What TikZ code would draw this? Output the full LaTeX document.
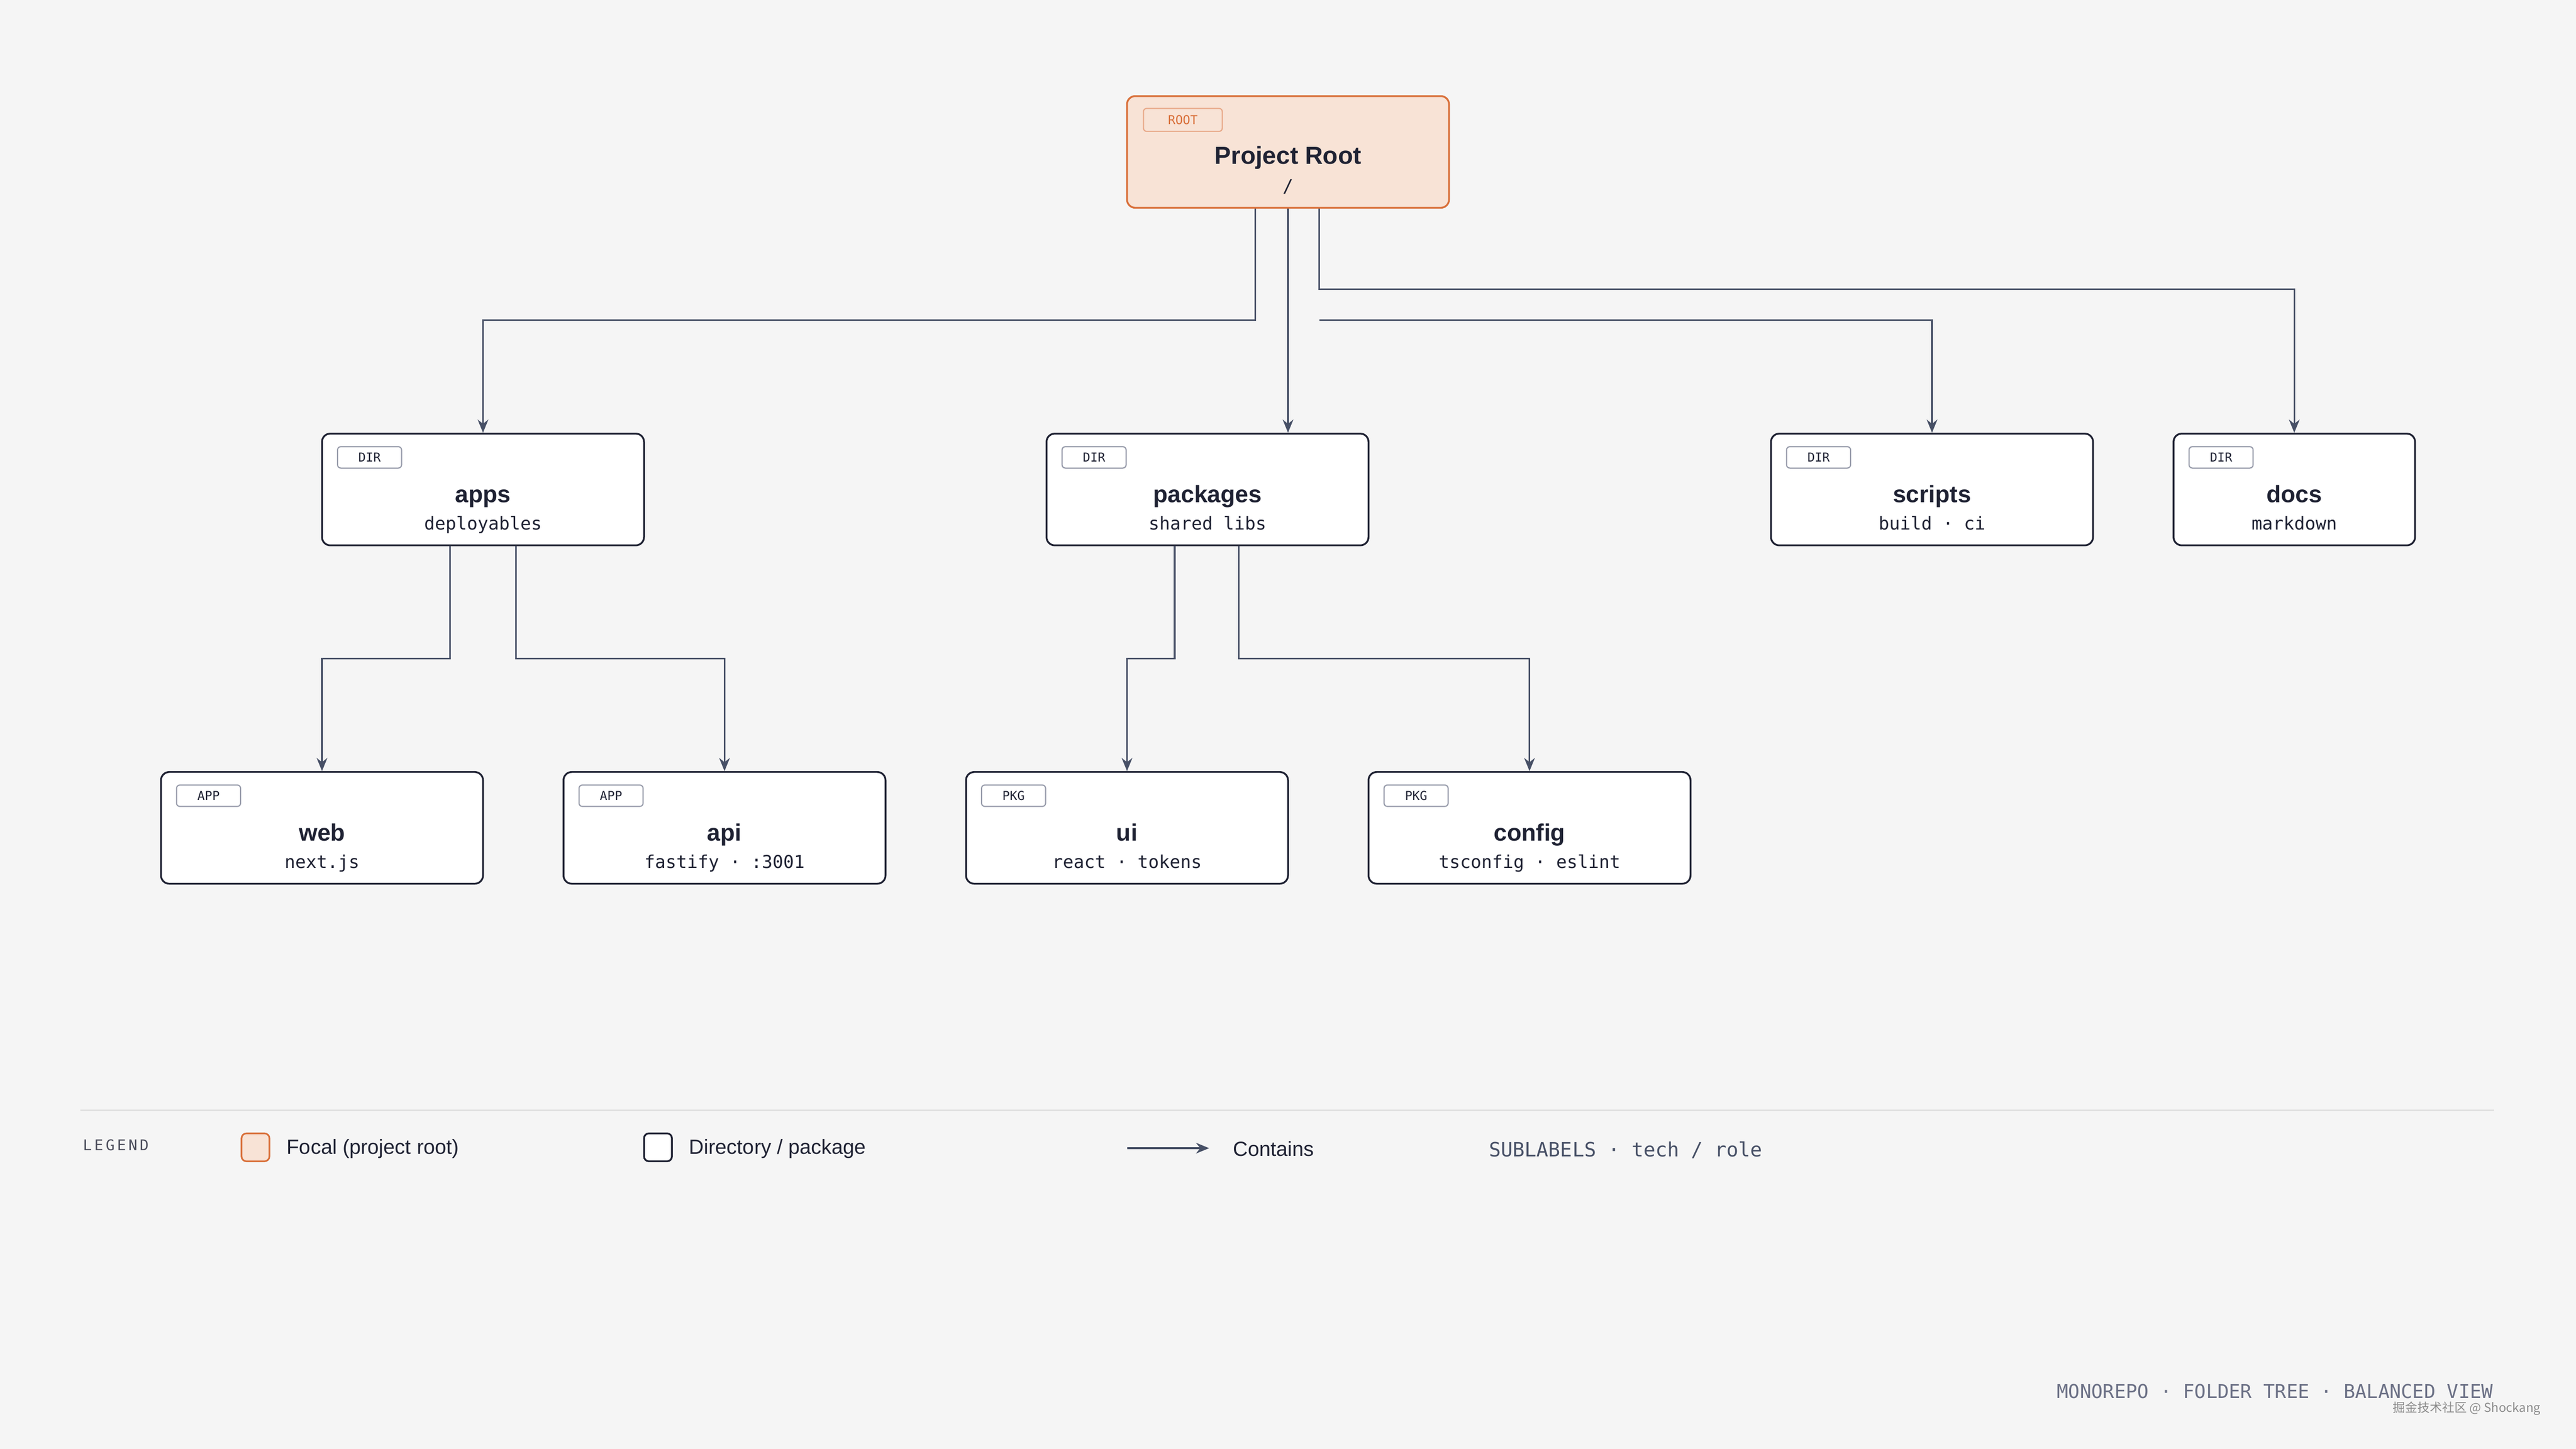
\documentclass[tikz,border=0pt]{standalone}
\usepackage{fontspec}
\setmainfont{Liberation Sans}
\setmonofont{DejaVu Sans Mono}
\newfontfamily\cjk{Noto Sans CJK SC}
\usetikzlibrary{arrows.meta}
\definecolor{bg}{HTML}{F5F5F5}
\definecolor{ink}{HTML}{1F2233}
\definecolor{edge}{HTML}{475066}
\definecolor{org}{HTML}{D9703A}
\definecolor{orgfill}{HTML}{F8E3D6}
\definecolor{muted}{HTML}{6B7085}
\begin{document}
\begin{tikzpicture}[x=1pt,y=-1pt,
  box/.style={draw=ink,line width=1.1pt,fill=white,rounded corners=5pt,minimum width=196pt,minimum height=68pt,inner sep=0pt},
  focal/.style={box,draw=org,fill=orgfill},
  badge/.style={draw=muted!70,line width=0.7pt,rounded corners=2pt,fill=white,minimum width=39pt,minimum height=13pt,inner sep=0pt,font=\ttfamily\fontsize{7.5}{8}\selectfont,text=ink},
  ttl/.style={anchor=base,inner sep=0pt,font=\bfseries\fontsize{14.5}{16}\selectfont,text=ink},
  sub/.style={anchor=base,inner sep=0pt,font=\ttfamily\fontsize{10.8}{12}\selectfont,text=ink},
  conn/.style={draw=edge,line width=1pt,-{Stealth[length=8pt,width=6.5pt]}}]
\fill[bg] (0,0) rectangle (1568,882);
\useasboundingbox (0,0) rectangle (1568,882);
% root
\node[focal] (root) at (784,92.5) {};
\node[badge,draw=org!60,fill=orgfill,text=org,minimum width=48pt,minimum height=14pt] (rb) at (720,73) {ROOT};
\node[ttl,font=\bfseries\fontsize{15}{17}\selectfont] (rt) at (784,100) {Project Root};
\node[sub] (rs) at (784,117) {/};
% generic
\newcommand{\mybox}[6]{%
  \node[box,minimum width=#6pt] (#1) at (#2,#3) {};
  \node[badge] (#1b) at ([xshift=29.5pt,yshift=-15pt]#1.north west) {#4};
  \node[ttl] (#1t) at (#2,#3+8) {#1};
  \node[sub] (#1s) at (#2,#3+24.5) {#5};}
\mybox{apps}{294}{298}{DIR}{deployables}{196}
\mybox{packages}{735}{298}{DIR}{shared libs}{196}
\mybox{scripts}{1176}{298}{DIR}{build · ci}{196}
\mybox{docs}{1396.5}{298}{DIR}{markdown}{147}
\mybox{web}{196}{504}{APP}{next.js}{196}
\mybox{api}{441}{504}{APP}{fastify · :3001}{196}
\mybox{ui}{686}{504}{PKG}{react · tokens}{196}
\mybox{config}{931}{504}{PKG}{tsconfig · eslint}{196}
% connectors
\draw[conn] (root.south -| 764,0) |- (294,195) -- (apps.north);
\draw[conn] (root.south) -- (packages.north -| root.south);
\draw[conn] (root.south -| 803,0) |- (1396.5,176) -- (docs.north);
\draw[conn] (803,195) -| (scripts.north);
\draw[conn] (apps.south -| 274,0) |- (196,401) -- (web.north);
\draw[conn] (apps.south -| 314,0) |- (441,401) -- (api.north);
\draw[conn] (packages.south -| 715,0) |- (686,401) -- (ui.north);
\draw[conn] (packages.south -| 754,0) |- (931,401) -- (config.north);
% legend
\draw[black!12,line width=1pt] (49,676) -- (1518,676);
\node[anchor=west,font=\ttfamily\fontsize{9}{10}\selectfont,text=ink!80] (lg) at (47,697) {L\,E\,G\,E\,N\,D};
\node[draw=org,fill=orgfill,line width=1pt,rounded corners=3pt,minimum width=17pt,minimum height=17pt,inner sep=0pt] (l1) at (155.5,698.5) {};
\node[anchor=west,font=\fontsize{12.5}{14}\selectfont,text=ink] (l1t) at (171,699.5) {Focal (project root)};
\node[draw=ink,fill=white,line width=1.1pt,rounded corners=3pt,minimum width=17pt,minimum height=17pt,inner sep=0pt] (l2) at (400.5,698.5) {};
\node[anchor=west,font=\fontsize{12.5}{14}\selectfont,text=ink] (l2t) at (416,699.5) {Directory / package};
\coordinate (a1) at (686,699);
\coordinate (a2) at (736,699);
\draw[conn] (a1) -- (a2);
\node[anchor=west,font=\fontsize{12.5}{14}\selectfont,text=ink] (l3t) at (747,699.5) {Contains};
\node[anchor=west,font=\ttfamily\fontsize{12}{13}\selectfont,text=edge] (l4) at (903,700) {SUBLABELS · tech / role};
% footer
\node[anchor=east,font=\ttfamily\fontsize{11.6}{12}\selectfont,text=muted] (ft) at (1521,847) {MONOREPO · FOLDER TREE · BALANCED VIEW};
\node[anchor=east,font=\cjk\fontsize{7.5}{8}\selectfont,text=black!45] (wm) at (1550,857.5) {掘金技术社区 @ Shockang};
\end{tikzpicture}
\end{document}
